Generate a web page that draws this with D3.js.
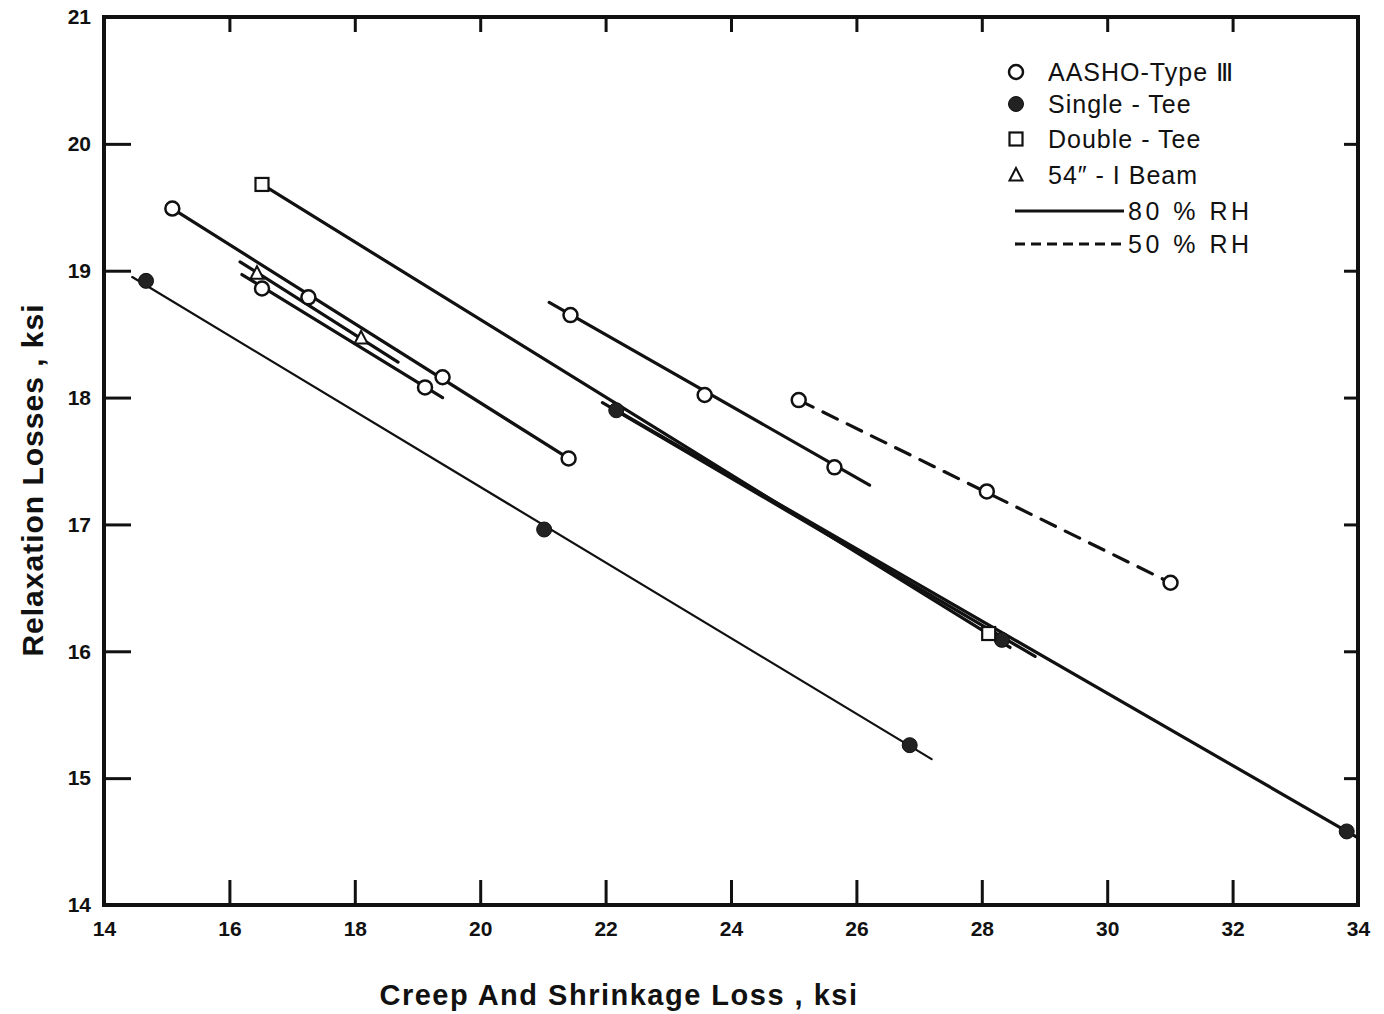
<!DOCTYPE html>
<html>
<head>
<meta charset="utf-8">
<script src="https://cdn.jsdelivr.net/npm/d3@7/dist/d3.min.js"></script>
<style>
body { margin: 0; background: #fff; }
svg { display: block; }
</style>
</head>
<body>
<svg id="chart" width="1384" height="1014"></svg>
<script>
// ---- data ----
const xTicks = [14, 16, 18, 20, 22, 24, 26, 28, 30, 32, 34];
const yTicks = [14, 15, 16, 17, 18, 19, 20, 21];

// AASHO-Type III (open circles), 80% RH
const aashoA = [[15.09, 19.49], [17.26, 18.79], [19.40, 18.16], [21.41, 17.52]];
const aashoB = [[16.52, 18.86], [19.12, 18.08]];
const aashoC = [[21.44, 18.65], [23.58, 18.02], [25.65, 17.45]];
// AASHO-Type III, 50% RH (dashed)
const aashoD = [[25.08, 17.98], [28.08, 17.26], [31.01, 16.54]];
// Single-Tee (filled circles)
const singleA = [[14.67, 18.92], [21.02, 16.96], [26.85, 15.26]];
const singleB = [[22.17, 17.90], [28.32, 16.09], [33.82, 14.58]];
// Double-Tee (squares)
const doubleT = [[16.52, 19.68], [28.11, 16.14]];
// 54" I Beam (triangles)
const beam = [[16.44, 18.98], [18.10, 18.47]];

// fitted lines: [x1, y1, x2, y2, style]
const fitLines = [
  [15.09, 19.49, 21.41, 17.52, "solid"],
  [16.20, 18.97, 19.40, 18.00, "solid"],
  [16.17, 19.07, 18.69, 18.28, "solid"],
  [21.10, 18.75, 26.21, 17.31, "solid"],
  [25.08, 17.98, 31.01, 16.54, "dashed"],
  [14.45, 18.95, 27.20, 15.15, "thin"],
  [16.52, 19.68, 28.45, 16.03, "solid"],
  [21.95, 17.96, 28.85, 15.96, "solid"],
  [22.17, 17.90, 34.00, 14.53, "solid"]
];

const legendItems = [
  { label: "AASHO-Type Ⅲ", kind: "circle" },
  { label: "Single - Tee", kind: "filled" },
  { label: "Double - Tee", kind: "square" },
  { label: "54\u2033 - I Beam", kind: "triangle" },
  { label: "80 % RH", kind: "solid" },
  { label: "50 % RH", kind: "dashed" }
];

// ---- drawing ----
const svg = d3.select("#chart");
const x = d3.scaleLinear().domain([14, 34]).range([104, 1358]);
const y = d3.scaleLinear().domain([14, 21]).range([905, 17]);
const font = "'Liberation Sans', Arial, sans-serif";

// frame
svg.append("rect")
  .attr("x", x(14)).attr("y", y(21))
  .attr("width", x(34) - x(14)).attr("height", y(14) - y(21))
  .attr("fill", "none").attr("stroke", "#111").attr("stroke-width", 4);

function styleAxis(g) {
  g.select(".domain").remove();
  g.selectAll(".tick line").attr("stroke", "#111").attr("stroke-width", 3);
  g.selectAll(".tick text").attr("fill", "#111")
    .style("font-family", font).style("font-weight", "bold").style("font-size", "21px");
}

const inner = xTicks.slice(1, -1);
svg.append("g").attr("transform", `translate(0,${y(14)})`)
  .call(d3.axisBottom(x).tickValues(xTicks).tickSize(0).tickPadding(16).tickFormat(d3.format("d")))
  .call(styleAxis);
svg.append("g").attr("transform", `translate(0,${y(14)})`)
  .call(d3.axisBottom(x).tickValues(inner).tickSize(-25).tickFormat(""))
  .call(styleAxis);
svg.append("g").attr("transform", `translate(0,${y(21)})`)
  .call(d3.axisTop(x).tickValues(inner).tickSize(-15).tickFormat(""))
  .call(styleAxis);
svg.append("g").attr("transform", `translate(${x(14)},0)`)
  .call(d3.axisLeft(y).tickValues(yTicks).tickSize(0).tickPadding(13).tickFormat(d3.format("d")))
  .call(styleAxis);
svg.append("g").attr("transform", `translate(${x(14)},0)`)
  .call(d3.axisLeft(y).tickValues(yTicks.slice(1, -1)).tickSize(-27).tickFormat(""))
  .call(styleAxis);
svg.append("g").attr("transform", `translate(${x(34)},0)`)
  .call(d3.axisRight(y).tickValues(yTicks.slice(1, -1)).tickSize(-14).tickFormat(""))
  .call(styleAxis);

// axis titles
svg.append("text").attr("x", 619).attr("y", 1005).attr("text-anchor", "middle")
  .style("font-family", font).style("font-size", "29px").style("font-weight", "bold")
  .style("letter-spacing", "1.5px").attr("fill", "#111")
  .text("Creep And Shrinkage Loss ,  ksi");
svg.append("text").attr("transform", `translate(43,${480}) rotate(-90)`).attr("text-anchor", "middle")
  .style("font-family", font).style("font-size", "30px").style("font-weight", "bold")
  .style("letter-spacing", "1px").attr("fill", "#111")
  .text("Relaxation Losses , ksi");

// fit lines
const plot = svg.append("g");
plot.selectAll("line.fit").data(fitLines).join("line")
  .attr("class", "fit")
  .attr("x1", d => x(d[0])).attr("y1", d => y(d[1]))
  .attr("x2", d => x(d[2])).attr("y2", d => y(d[3]))
  .attr("stroke", "#111")
  .attr("stroke-width", d => d[4] === "thin" ? 2.2 : 3.2)
  .attr("stroke-dasharray", d => d[4] === "dashed" ? "16,11" : null)
  .attr("stroke-linecap", "round");

// markers
function drawMarker(g, kind, cx, cy) {
  if (kind === "circle") {
    g.append("circle").attr("cx", cx).attr("cy", cy).attr("r", 7)
      .attr("fill", "#fff").attr("stroke", "#111").attr("stroke-width", 2.5);
  } else if (kind === "filled") {
    g.append("circle").attr("cx", cx).attr("cy", cy).attr("r", 7.5)
      .attr("fill", "#222").attr("stroke", "#111").attr("stroke-width", 1);
  } else if (kind === "square") {
    g.append("rect").attr("x", cx - 6.5).attr("y", cy - 6.5).attr("width", 13).attr("height", 13)
      .attr("fill", "#fff").attr("stroke", "#111").attr("stroke-width", 2.2);
  } else if (kind === "triangle") {
    g.append("path").attr("d", `M${cx},${cy - 7}L${cx + 6.5},${cy + 5.5}L${cx - 6.5},${cy + 5.5}Z`)
      .attr("fill", "#fff").attr("stroke", "#111").attr("stroke-width", 2);
  }
}
const sets = [
  [aashoA, "circle"], [aashoB, "circle"], [aashoC, "circle"], [aashoD, "circle"],
  [singleA, "filled"], [singleB, "filled"], [doubleT, "square"], [beam, "triangle"]
];
sets.forEach(([pts, kind]) => pts.forEach(p => drawMarker(plot, kind, x(p[0]), y(p[1]))));

// legend
const lg = svg.append("g");
const rowY = [72, 104, 139, 175, 211, 244];
legendItems.forEach((it, i) => {
  const yy = rowY[i];
  if (it.kind === "solid" || it.kind === "dashed") {
    lg.append("line").attr("x1", 1015).attr("x2", 1124).attr("y1", yy).attr("y2", yy)
      .attr("stroke", "#111").attr("stroke-width", 3.2)
      .attr("stroke-dasharray", it.kind === "dashed" ? "10,6" : null);
    lg.append("text").attr("x", 1128).attr("y", yy + 9)
      .style("font-family", font).style("font-size", "25px").style("letter-spacing", "3.5px")
      .attr("fill", "#111").text(it.label);
  } else {
    drawMarker(lg, it.kind, 1016, yy);
    lg.append("text").attr("x", 1048).attr("y", yy + 9)
      .style("font-family", font).style("font-size", "25px").style("letter-spacing", "1px")
      .attr("fill", "#111").text(it.label);
  }
});
</script>
</body>
</html>
